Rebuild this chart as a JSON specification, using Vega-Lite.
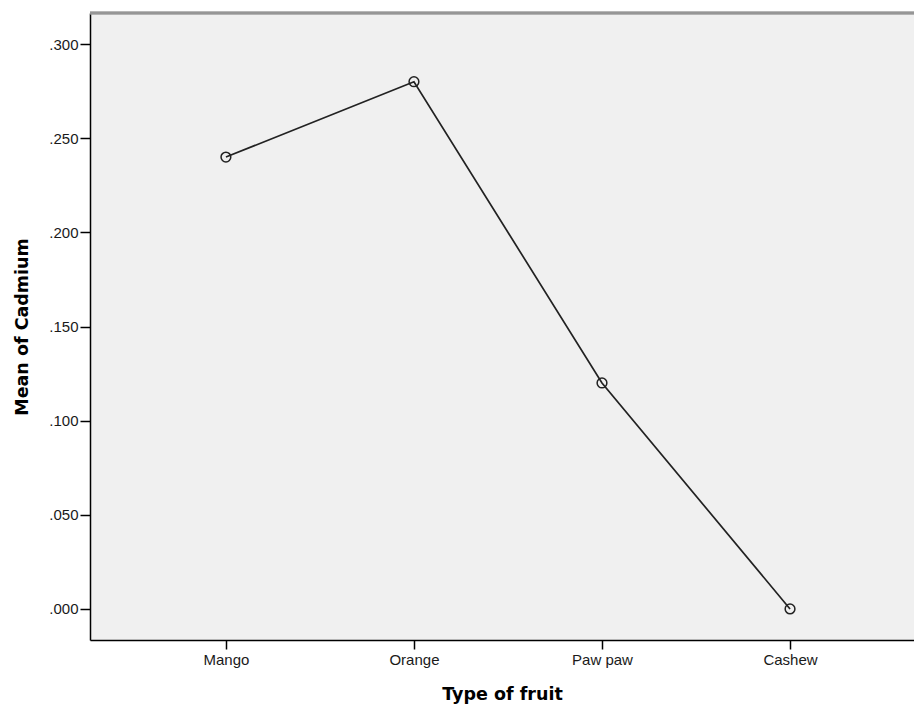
{
  "$schema": "https://vega.github.io/schema/vega-lite/v6.json",
  "autosize": {"type": "none"},
  "padding": {"left": 90, "top": 13, "right": 0, "bottom": 64},
  "width": 824,
  "height": 627,
  "background": "white",
  "data": {
    "values": [
      {"fruit": "Mango", "cadmium": 0.24},
      {"fruit": "Orange", "cadmium": 0.28},
      {"fruit": "Paw paw", "cadmium": 0.12},
      {"fruit": "Cashew", "cadmium": 0.0}
    ]
  },
  "encoding": {
    "x": {
      "field": "fruit", "type": "ordinal", "sort": null,
      "scale": {"type": "point", "padding": 0.691, "align": 0.523},
      "axis": {"title": "Type of fruit", "labelAngle": 0, "titlePadding": 18}
    },
    "y": {
      "field": "cadmium", "type": "quantitative",
      "scale": {"domain": [-0.0165, 0.3165], "nice": false, "zero": false},
      "axis": {
        "title": "Mean of Cadmium",
        "values": [0, 0.05, 0.1, 0.15, 0.2, 0.25, 0.3],
        "labelExpr": "slice(format(datum.value, '.3f'), 1)",
        "tickSize": 10,
        "labelPadding": 2,
        "titlePadding": 17
      }
    }
  },
  "layer": [
    {
      "mark": {"type": "rule", "color": "#969696", "strokeWidth": 2.5},
      "encoding": {"x": null, "y": {"datum": 0.3165}}
    },
    {
      "mark": {"type": "line", "color": "#222222", "strokeWidth": 1.7}
    },
    {
      "mark": {"type": "point", "shape": "circle", "size": 95, "filled": false, "color": "#222222", "strokeWidth": 1.5, "opacity": 1}
    }
  ],
  "config": {
    "view": {"fill": "#f0f0f0", "stroke": null},
    "axis": {
      "grid": false,
      "domainColor": "#000000",
      "domainWidth": 1.5,
      "tickColor": "#000000",
      "tickSize": 9,
      "tickWidth": 1.5,
      "labelFont": "Liberation Sans",
      "labelFontSize": 15,
      "labelColor": "#1a1a1a",
      "labelPadding": 3,
      "titleFont": "DejaVu Sans",
      "titleFontSize": 17.5,
      "titleFontWeight": "bold",
      "titleColor": "#000000"
    }
  }
}
